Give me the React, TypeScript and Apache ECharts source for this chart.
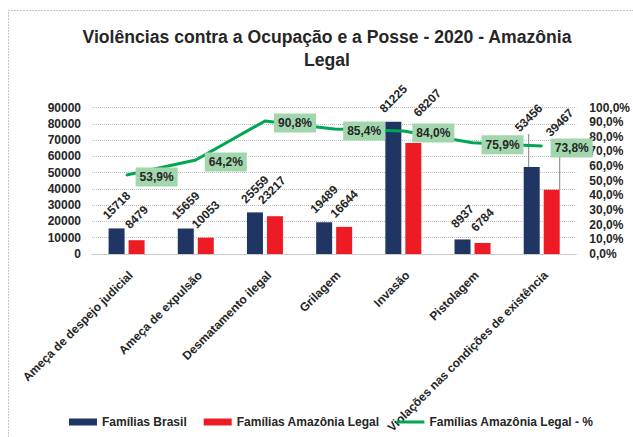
import React, { useEffect, useRef } from "react";
import * as echarts from "echarts";

const titleText = "Violências contra a Ocupação e a Posse - 2020 - Amazônia\nLegal";
const categories = [
  "Ameça de despejo judicial",
  "Ameça de expulsão",
  "Desmatamento ilegal",
  "Grilagem",
  "Invasão",
  "Pistolagem",
  "Violações nas condições de existência",
];
const familiasBrasil = [15718, 15659, 25559, 19489, 81225, 8937, 53456];
const familiasAmazonia = [8479, 10053, 23217, 16644, 68207, 6784, 39467];
const percentAmazonia = [53.9, 64.2, 90.8, 85.4, 84.0, 75.9, 73.8];
const seriesNames = ["Famílias Brasil", "Famílias Amazônia Legal", "Famílias Amazônia Legal - %"];

const FONT = '"Liberation Sans", Arial, sans-serif';
const TXT = "#262626";
const LABEL_ROT = 45;

// screen-space shifts for labels moved away from their default place (style only)
const brasilLabelShift: Record<number, [number, number]> = { 6: [-3, -26] };
const amazoniaLabelShift: Record<number, [number, number]> = {
  2: [-3, -3],
  4: [14, -17],
  6: [8, -44],
};
const leaderIndex = 6;

// ECharts applies labelLayout dx/dy in the label's rotated frame: convert.
function toRotatedFrame(s?: [number, number]) {
  if (!s) return {};
  const t = (LABEL_ROT * Math.PI) / 180;
  const c = Math.cos(t);
  const n = Math.sin(t);
  const dx = s[0] * c - s[1] * n;
  const dy = s[0] * n + s[1] * c;
  return { dx, dy };
}

export default function App() {
  const ref = useRef<HTMLDivElement>(null);
  useEffect(() => {
    if (!ref.current) return;
    const chart = echarts.init(ref.current, null, { renderer: "svg" });
    const barLabel = {
      show: true,
      position: "top",
      distance: 23,
      rotate: LABEL_ROT,
      align: "center",
      verticalAlign: "middle",
      fontFamily: FONT,
      fontSize: 12,
      fontWeight: "bold",
      color: TXT,
    };
    const leader = { show: true, lineStyle: { color: "#7f7f7f", width: 1 } };
    chart.setOption({
      animation: false,
      textStyle: { fontFamily: FONT },
      graphic: [
        {
          type: "rect",
          silent: true,
          z: -10,
          shape: { x: 8.5, y: 10.5, width: 700, height: 500 },
          style: { fill: "none", stroke: "#8c8c8c", lineWidth: 1, lineDash: [1, 2] },
        },
        {
          type: "text",
          x: 327,
          y: 25,
          style: {
            text: titleText,
            fontFamily: FONT,
            fontSize: 17.6,
            fontWeight: "bold",
            align: "center",
            verticalAlign: "top",
            lineHeight: 23,
            fill: TXT,
          },
        },
      ],
      legend: {
        left: 69,
        top: 416,
        padding: 0,
        itemWidth: 28,
        itemHeight: 7,
        itemGap: 17,
        symbolKeepAspect: true,
        textStyle: { fontFamily: FONT, fontSize: 12, fontWeight: "bold", color: TXT },
        data: [
          { name: seriesNames[0], icon: "rect" },
          { name: seriesNames[1], icon: "rect" },
          { name: seriesNames[2], icon: "path://M0,0 L28,0 L28,3 L0,3 Z" },
        ],
      },
      grid: { left: 92, right: 55, top: 107.5, bottom: 183, containLabel: false },
      xAxis: {
        type: "category",
        data: categories,
        axisLine: { show: true, lineStyle: { color: "#bfbfbf", type: "dotted", width: 1 } },
        axisTick: { show: false },
        axisLabel: {
          interval: 0,
          rotate: 45,
          margin: 15,
          align: "right",
          verticalAlign: "top",
          fontFamily: FONT,
          fontSize: 12,
          fontWeight: "bold",
          color: TXT,
        },
      },
      yAxis: [
        {
          type: "value",
          min: 0,
          max: 90000,
          interval: 10000,
          axisLine: { show: false },
          axisTick: { show: false },
          splitLine: { show: true, lineStyle: { color: "#bfbfbf", type: "dotted", width: 1 } },
          axisLabel: {
            margin: 11,
            fontFamily: FONT,
            fontSize: 12,
            fontWeight: "bold",
            color: TXT,
            formatter: (v: number) => String(v),
          },
        },
        {
          type: "value",
          min: 0,
          max: 100,
          interval: 10,
          position: "right",
          axisLine: { show: false },
          axisTick: { show: false },
          splitLine: { show: false },
          axisLabel: {
            margin: 13,
            fontFamily: FONT,
            fontSize: 12,
            fontWeight: "bold",
            color: TXT,
            formatter: (v: number) => v.toFixed(1).replace(".", ",") + "%",
          },
        },
      ],
      series: [
        {
          name: seriesNames[0],
          type: "bar",
          barWidth: 16,
          barGap: "25%",
          itemStyle: { color: "#1f3564" },
          label: barLabel,
          labelLine: { show: false, lineStyle: { color: "#7f7f7f", width: 1 } },
          labelLayout: (p: any) => toRotatedFrame(brasilLabelShift[p.dataIndex]),
          data: familiasBrasil.map((v, i) => (i === leaderIndex ? { value: v, labelLine: leader } : v)),
        },
        {
          name: seriesNames[1],
          type: "bar",
          barWidth: 16,
          barGap: "25%",
          itemStyle: { color: "#ed1c24" },
          label: barLabel,
          labelLine: { show: false, lineStyle: { color: "#7f7f7f", width: 1 } },
          labelLayout: (p: any) => toRotatedFrame(amazoniaLabelShift[p.dataIndex]),
          data: familiasAmazonia.map((v, i) => (i === leaderIndex ? { value: v, labelLine: leader } : v)),
        },
        {
          name: seriesNames[2],
          type: "line",
          yAxisIndex: 1,
          symbol: "circle",
          symbolSize: 2,
          showSymbol: true,
          z: 5,
          lineStyle: { color: "#00a651", width: 3 },
          itemStyle: { color: "#00a651" },
          label: {
            show: true,
            position: "right",
            distance: 8,
            offset: [0, 2],
            formatter: (p: any) => Number(p.value).toFixed(1).replace(".", ",") + "%",
            backgroundColor: "#a2d7ad",
            padding: [4, 4, 3, 4],
            fontFamily: FONT,
            fontSize: 12,
            fontWeight: "bold",
            color: TXT,
          },
          data: percentAmazonia,
        },
      ],
    });
    return () => chart.dispose();
  }, []);
  return (
    <div
      ref={ref}
      style={{ position: "fixed", left: 0, top: 0, width: 633, height: 437, background: "#fff" }}
    />
  );
}
